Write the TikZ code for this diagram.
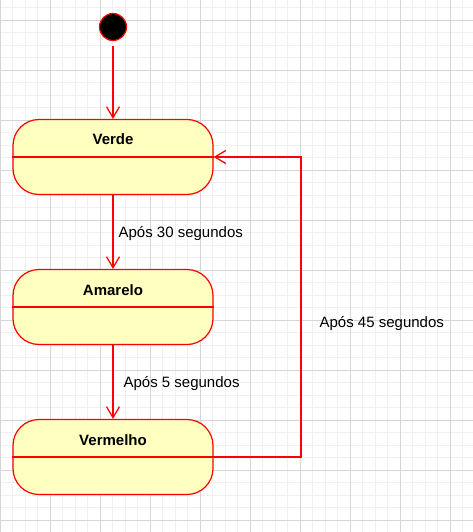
\documentclass[tikz,border=0pt]{standalone}
\usepackage{fontspec}
\setmainfont{Liberation Sans}
\usetikzlibrary{arrows.meta,positioning}

\definecolor{statefill}{HTML}{FFFFC0}
\definecolor{stateline}{HTML}{FF0000}
\definecolor{gridmajor}{HTML}{D6D6D6}
\definecolor{gridminor}{HTML}{F0F0F0}

\begin{document}
\begin{tikzpicture}[x=1pt, y=-1pt,
    state/.style={draw=stateline, fill=statefill, line width=1.2pt,
      rounded corners=26pt, minimum width=200pt, minimum height=75pt, inner sep=0pt},
    title/.style={font=\fontsize{15}{18}\selectfont\bfseries, inner sep=0pt},
    trans/.style={draw=stateline, line width=1.25pt,
      -{Straight Barb[length=11pt,width=13pt]}},
    cond/.style={font=\fontsize{15}{18}\selectfont, inner sep=0pt, yshift=-2pt}]

  \useasboundingbox (0,0) rectangle (473,532);

  % background grid
  \foreach \gx in {0,12.5,...,472}
    \draw[gridminor, line width=0.8pt] (\gx,0) -- (\gx,532);
  \foreach \gy in {7.5,20,...,532}
    \draw[gridminor, line width=0.8pt] (0,\gy) -- (473,\gy);
  \foreach \gx in {0,50,...,450}
    \draw[gridmajor, line width=0.8pt] (\gx,0) -- (\gx,532);
  \foreach \gy in {20,70,...,520}
    \draw[gridmajor, line width=0.8pt] (0,\gy) -- (473,\gy);

  \node[circle, draw=stateline, fill=black, line width=1.2pt,
    minimum size=27pt, inner sep=0pt] (inicio) at (113,27) {};

  \begin{scope}[every node/.style={state}]
    \node (verde)    at (113,157) {};
    \node (amarelo)  at (113,307) {};
    \node (vermelho) at (113,457) {};
  \end{scope}

  \begin{scope}[every node/.style={title}]
    \node (verde-t)    at (113,139.5) {Verde};
    \node (amarelo-t)  at (113,290)   {Amarelo};
    \node (vermelho-t) at (113,440)   {Vermelho};
  \end{scope}

  \draw[stateline, line width=1.25pt] (verde.west) -- (verde.east);
  \draw[stateline, line width=1.25pt] (amarelo.west) -- (amarelo.east);
  \draw[stateline, line width=1.25pt] (vermelho.west) -- (vermelho.east);

  \coordinate (volta) at (301,157);

  \draw[trans, shorten <=5pt] (inicio) -- (verde);
  \draw[trans] (verde) -- node[cond, right=5pt] (t30) {Após 30 segundos} (amarelo);
  \draw[trans] (amarelo) -- node[cond, right=10pt] (t5) {Após 5 segundos} (vermelho);
  \draw[trans] (vermelho.east) -| node[cond, pos=0.726, right=18pt] (t45) {Após 45 segundos} (volta)
    -- (verde.east);

\end{tikzpicture}
\end{document}
